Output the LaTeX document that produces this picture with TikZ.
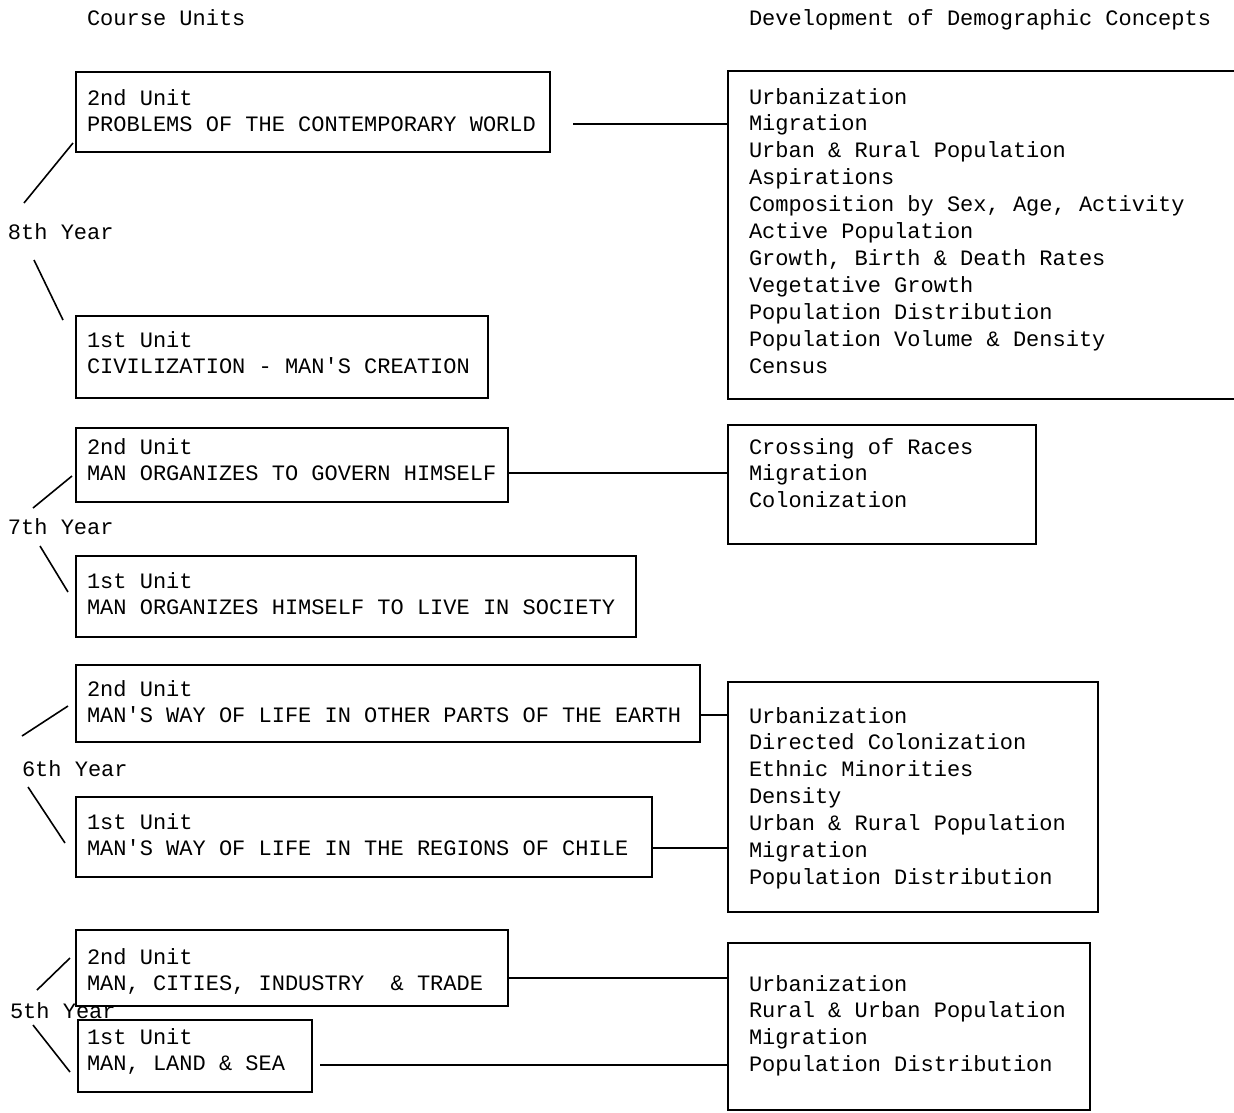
\documentclass[tikz,border=0pt]{standalone}
\usepackage{fontspec}
\newfontfamily\tw{Liberation Mono}
\begin{document}
\begin{tikzpicture}[x=1pt,y=-1pt,
  line width=1.6pt,
  box/.style={draw, line width=1.6pt, inner sep=0pt, outer sep=0pt, anchor=north west},
  openbox/.style={inner sep=0pt, outer sep=0pt, anchor=north west},
  txt/.style={font=\tw\fontsize{22}{26.9}\selectfont, inner sep=0pt, outer sep=0pt, anchor=north west, align=left},
  lbl/.style={font=\tw\fontsize{22}{26.9}\selectfont, inner sep=0pt, outer sep=0pt, anchor=base west}]
\useasboundingbox[fill=white] (0,0) rectangle (1234,1112);

% headers
\node[lbl] (h1) at (87,25) {Course Units};
\node[lbl] (h2) at (749,25) {Development of Demographic Concepts};

% ---------- 8th year ----------
\node[box, minimum width=474pt, minimum height=80pt] (b82) at (76,72) {};
\node[txt] (t82) at (87,86.17) {\strut 2nd Unit\\PROBLEMS OF THE CONTEMPORARY WORLD};
\node[box, minimum width=412pt, minimum height=82pt] (b81) at (76,316) {};
\node[txt] (t81) at (87,328.17) {\strut 1st Unit\\CIVILIZATION - MAN'S CREATION};
\node[lbl] (y8) at (8,239) {8th Year};
\node[openbox, minimum width=506pt, minimum height=328pt] (r8) at (728,71) {};
\draw (r8.north east) -- (r8.north west) -- (r8.south west) -- (r8.south east);
\node[txt] (rt8) at (749,85.17) {\strut Urbanization\\Migration\\Urban \& Rural Population\\Aspirations\\Composition by Sex, Age, Activity\\Active Population\\Growth, Birth \& Death Rates\\Vegetative Growth\\Population Distribution\\Population Volume \& Density\\Census};
\coordinate (y8a) at (24,203); \coordinate (y8b) at (73,143);
\coordinate (y8c) at (34,260); \coordinate (y8d) at (63,320);
\draw (y8a) -- (y8b);
\draw (y8c) -- (y8d);
\coordinate (k8) at (573,124);
\draw (k8) -- (k8 -| r8.west);

% ---------- 7th year ----------
\node[box, minimum width=432pt, minimum height=74pt] (b72) at (76,428) {};
\node[txt] (t72) at (87,435.17) {\strut 2nd Unit\\MAN ORGANIZES TO GOVERN HIMSELF};
\node[box, minimum width=560pt, minimum height=81pt] (b71) at (76,556) {};
\node[txt] (t71) at (87,569.17) {\strut 1st Unit\\MAN ORGANIZES HIMSELF TO LIVE IN SOCIETY};
\node[lbl] (y7) at (8,534) {7th Year};
\node[box, minimum width=308pt, minimum height=119pt] (r7) at (728,425) {};
\node[txt] (rt7) at (749,435.17) {\strut Crossing of Races\\Migration\\Colonization};
\coordinate (y7a) at (33,508); \coordinate (y7b) at (72,476);
\coordinate (y7c) at (40,546); \coordinate (y7d) at (68,592);
\draw (y7a) -- (y7b);
\draw (y7c) -- (y7d);
\coordinate (k7) at (0,473);
\draw (b72.east |- k7) -- (r7.west |- k7);

% ---------- 6th year ----------
\node[box, minimum width=624pt, minimum height=77pt] (b62) at (76,665) {};
\node[txt] (t62) at (87,677.17) {\strut 2nd Unit\\MAN'S WAY OF LIFE IN OTHER PARTS OF THE EARTH};
\node[box, minimum width=576pt, minimum height=80pt] (b61) at (76,797) {};
\node[txt] (t61) at (87,810.17) {\strut 1st Unit\\MAN'S WAY OF LIFE IN THE REGIONS OF CHILE};
\node[lbl] (y6) at (22,776) {6th Year};
\node[box, minimum width=370pt, minimum height=230pt] (r6) at (728,682) {};
\node[txt] (rt6) at (749,704.17) {\strut Urbanization\\Directed Colonization\\Ethnic Minorities\\Density\\Urban \& Rural Population\\Migration\\Population Distribution};
\coordinate (y6a) at (22,736); \coordinate (y6b) at (68,706);
\coordinate (y6c) at (28,787); \coordinate (y6d) at (65,843);
\draw (y6a) -- (y6b);
\draw (y6c) -- (y6d);
\coordinate (k6a) at (0,715);
\coordinate (k6b) at (0,848);
\draw (b62.east |- k6a) -- (r6.west |- k6a);
\draw (b61.east |- k6b) -- (r6.west |- k6b);

% ---------- 5th year ----------
\node[box, minimum width=432pt, minimum height=76pt] (b52) at (76,930) {};
\node[txt] (t52) at (87,945.17) {\strut 2nd Unit\\MAN, CITIES, INDUSTRY~~\& TRADE};
\node[box, minimum width=234pt, minimum height=72pt] (b51) at (78,1020) {};
\node[txt] (t51) at (87,1025.17) {\strut 1st Unit\\MAN, LAND \& SEA};
\node[lbl] (y5) at (10,1018) {5th Year};
\node[box, minimum width=362pt, minimum height=167pt] (r5) at (728,943) {};
\node[txt] (rt5) at (749,972.17) {\strut Urbanization\\Rural \& Urban Population\\Migration\\Population Distribution};
\coordinate (y5a) at (37,990); \coordinate (y5b) at (70,958);
\coordinate (y5c) at (33,1025); \coordinate (y5d) at (70,1072);
\draw (y5a) -- (y5b);
\draw (y5c) -- (y5d);
\coordinate (k5a) at (0,978);
\coordinate (k5b) at (320,1065);
\draw (b52.east |- k5a) -- (r5.west |- k5a);
\draw (k5b) -- (k5b -| r5.west);
\end{tikzpicture}
\end{document}
